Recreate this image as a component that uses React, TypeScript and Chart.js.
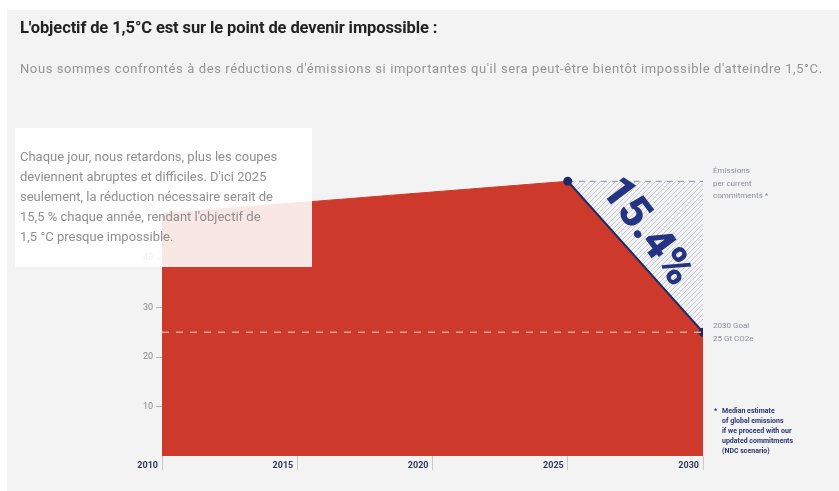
import React, { useEffect, useRef } from "react";
import { Chart, registerables } from "chart.js";
Chart.register(...registerables);

// ---- data ----
const emissionYears = [2010, 2025, 2030];
const emissionValues = [49, 55.5, 25];
const commitmentYears = [2025, 2030];
const commitmentValues = [55.5, 55.5];
const goalYears = [2010, 2030];
const goalValues = [25, 25];
const xTickValues = [2010, 2015, 2020, 2025, 2030];
const yTickValues = [10, 20, 30, 40, 50];
const reductionLabel = "15.4%";
const title = "L'objectif de 1,5°C est sur le point de devenir impossible :";
const subtitle =
  "Nous sommes confrontés à des réductions d'émissions si importantes qu'il sera peut-être bientôt impossible d'atteindre 1,5°C.";
const noteLines = [
  "Chaque jour, nous retardons, plus les coupes",
  "deviennent abruptes et difficiles. D'ici 2025",
  "seulement, la réduction nécessaire serait de",
  "15,5 % chaque année, rendant l'objectif de",
  "1,5 °C presque impossible.",
];
const commitmentLabel = ["Émissions", "per current", "commitments *"];
const goalLabel = ["2030 Goal", "25 Gt CO2e"];
const footnote = [
  "Median estimate",
  "of global emissions",
  "if we proceed with our",
  "updated commitments",
  "(NDC scenario)",
];

const RED = "#cd3a2b";
const NAVY = "#1f2b66";
const BG = "#f3f3f3";

function makeHatch(): CanvasPattern | string {
  const c = document.createElement("canvas");
  c.width = 5;
  c.height = 5;
  const g = c.getContext("2d");
  if (!g) return "rgba(180,186,200,0.4)";
  g.strokeStyle = "#c6ccd7";
  g.lineWidth = 1;
  g.beginPath();
  g.moveTo(0, 5);
  g.lineTo(5, 0);
  g.moveTo(-2.5, 2.5);
  g.lineTo(2.5, -2.5);
  g.moveTo(2.5, 7.5);
  g.lineTo(7.5, 2.5);
  g.stroke();
  const p = g.createPattern(c, "repeat");
  return p || "rgba(180,186,200,0.4)";
}

const annotationPlugin = {
  id: "annot",
  afterDatasetsDraw(chart: any) {
    const { ctx, chartArea, scales } = chart;
    const xs = scales.x;
    const ys = scales.y;
    const p1 = { x: xs.getPixelForValue(emissionYears[1]), y: ys.getPixelForValue(emissionValues[1]) };
    const p2 = { x: xs.getPixelForValue(emissionYears[2]), y: ys.getPixelForValue(emissionValues[2]) };
    const dx = p2.x - p1.x;
    const dy = p2.y - p1.y;
    const len = Math.hypot(dx, dy);
    const dir = { x: dx / len, y: dy / len };
    const nrm = { x: dir.y, y: -dir.x };
    const mid = { x: (p1.x + p2.x) / 2, y: (p1.y + p2.y) / 2 };
    const cx = mid.x + nrm.x * 24 - dir.x * 11;
    const cy = mid.y + nrm.y * 24 - dir.y * 11;
    ctx.save();
    ctx.translate(cx, cy);
    ctx.rotate(Math.atan2(dy, dx) + (5 * Math.PI) / 180);
    ctx.fillStyle = "#243382";
    ctx.font = "900 44px Roboto";
    ctx.textAlign = "center";
    ctx.textBaseline = "middle";
    ctx.fillText(reductionLabel, 0, 0);
    ctx.restore();

    const lx = chartArea.right + 10;
    ctx.save();
    ctx.fillStyle = "#8a8f9b";
    ctx.font = "8px Roboto";
    ctx.textAlign = "left";
    ctx.textBaseline = "middle";
    const cy1 = ys.getPixelForValue(commitmentValues[1]);
    commitmentLabel.forEach((t, i) => ctx.fillText(t, lx, cy1 - 10 + i * 12.5));
    const gy = ys.getPixelForValue(goalValues[1]);
    goalLabel.forEach((t, i) => ctx.fillText(t, lx, gy - 6 + i * 12.5));
    ctx.fillStyle = "#2a3572";
    ctx.font = "bold 7px Roboto";
    const by = chartArea.bottom;
    ctx.fillText("*", lx + 1, by - 45);
    footnote.forEach((t, i) => ctx.fillText(t, lx + 9, by - 45 + i * 10));
    ctx.restore();
  },
};

export default function App() {
  const ref = useRef<HTMLCanvasElement>(null);
  useEffect(() => {
    if (!ref.current) return;
    Chart.defaults.font.family = "Roboto";
    const hatch = makeHatch();
    const chart = new Chart(ref.current, {
      type: "line",
      data: {
        datasets: [
          {
            label: "goal",
            data: goalYears.map((x, i) => ({ x, y: goalValues[i] })),
            borderColor: "#f2a194",
            borderWidth: 1.5,
            borderDash: [7, 7],
            pointRadius: 0,
            fill: false,
            order: 0,
          },
          {
            label: "reduction path",
            data: emissionYears.slice(1).map((x, i) => ({ x, y: emissionValues[i + 1] })),
            borderColor: NAVY,
            borderWidth: 2,
            pointRadius: 3.5,
            pointBackgroundColor: NAVY,
            pointBorderColor: NAVY,
            fill: false,
            order: 0.5,
          },
          {
            label: "emissions",
            data: emissionYears.map((x, i) => ({ x, y: emissionValues[i] })),
            borderColor: RED,
            borderWidth: 1,
            backgroundColor: RED,
            fill: "origin",
            pointRadius: 0,
            order: 1,
          },
          {
            label: "commitments",
            data: commitmentYears.map((x, i) => ({ x, y: commitmentValues[i] })),
            borderColor: "#9aa2b4",
            borderWidth: 1.2,
            borderDash: [6, 5],
            backgroundColor: hatch as any,
            fill: "origin",
            pointRadius: 0,
            order: 2,
          },
        ],
      },
      options: {
        animation: false,
        responsive: false,
        events: [],
        layout: { padding: { top: 149, right: 136, left: 0, bottom: 0 } },
        plugins: { legend: { display: false }, tooltip: { enabled: false } },
        scales: {
          x: {
            type: "linear",
            min: 2010,
            max: 2030,
            afterFit: (s: any) => {
              s.height = 35;
            },
            afterBuildTicks: (s: any) => {
              s.ticks = xTickValues.map((v) => ({ value: v }));
            },
            border: { display: false },
            grid: { drawOnChartArea: false, tickLength: 14, color: "#c9c9c9" },
            ticks: {
              autoSkip: false,
              maxRotation: 0,
              align: "end",
              labelOffset: -4,
              padding: -10,
              color: "#33395a",
              font: { size: 9, weight: "bold" },
              callback: (v: any) => String(v),
            },
          },
          y: {
            min: 0,
            max: 60,
            afterFit: (s: any) => {
              s.width = 155;
            },
            afterBuildTicks: (s: any) => {
              s.ticks = yTickValues.map((v) => ({ value: v }));
            },
            border: { display: false },
            grid: { drawOnChartArea: false, tickLength: 6, color: "#b5b5b5" },
            ticks: { color: "#8a8a8a", padding: 3, font: { size: 9 } },
          },
        },
      },
      plugins: [annotationPlugin],
    } as any);
    return () => chart.destroy();
  }, []);

  return (
    <div
      style={{
        position: "fixed",
        left: 7,
        top: 10,
        width: 832,
        height: 481,
        background: BG,
        fontFamily: "Roboto, sans-serif",
      }}
    >
      <canvas ref={ref} width={832} height={481} style={{ position: "absolute", left: 0, top: 0, width: 832, height: 481 }} />
      <div
        style={{
          position: "absolute",
          left: 13,
          top: 8,
          fontSize: 16.5,
          lineHeight: "20px",
          fontWeight: 700,
          color: "#222",
          letterSpacing: -0.1,
          whiteSpace: "nowrap",
        }}
      >
        {title}
      </div>
      <div
        style={{
          position: "absolute",
          left: 13,
          top: 51,
          fontSize: 13,
          lineHeight: "16px",
          letterSpacing: 0.6,
          color: "#949494",
          whiteSpace: "nowrap",
        }}
      >
        {subtitle}
      </div>
      <div
        style={{
          position: "absolute",
          left: 8,
          top: 118,
          width: 292,
          height: 120,
          paddingLeft: 5,
          paddingTop: 19,
          background: "rgba(255,255,255,0.88)",
          fontSize: 13,
          lineHeight: "20px",
          color: "#8f8f8f",
          whiteSpace: "nowrap",
        }}
      >
        {noteLines.map((t, i) => (
          <div key={i}>{t}</div>
        ))}
      </div>
    </div>
  );
}
